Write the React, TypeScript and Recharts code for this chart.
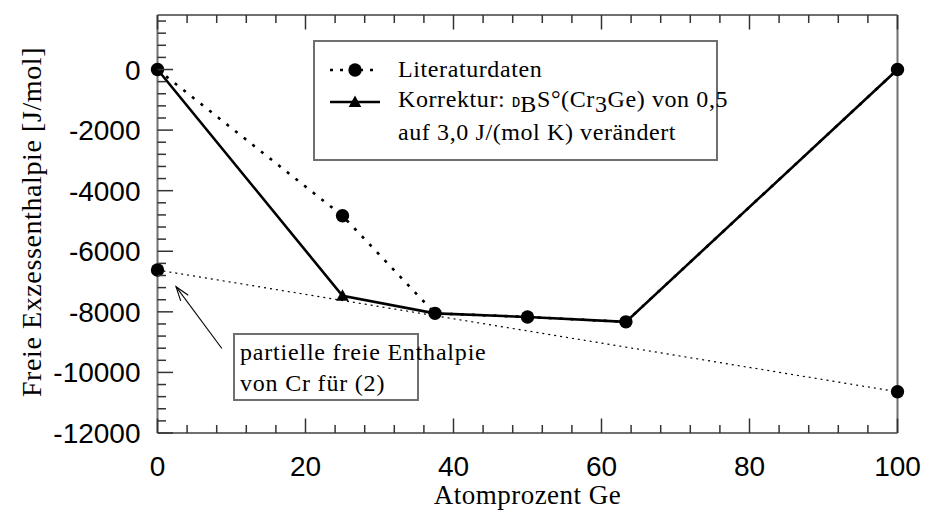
import { LineChart, Line, XAxis, YAxis, ReferenceLine, Legend } from 'recharts';

// Atomprozent Ge der berechneten Phasen
const atomPct = [0, 25, 37.5, 50, 63.3, 100];
// Freie Exzessenthalpie in J/mol
const literatur = [0, -4830, -8050, -8170, -8330, 0];
const korrektur = [0, -7470, -8050, -8170, -8330, 0];
// Tangente: partielle freie Enthalpie von Cr
const tangenteX = [0, 100];
const tangenteY = [-6620, -10640];

const xTicks = [0, 4, 8, 12, 16, 20, 24, 28, 32, 36, 40, 44, 48, 52, 56, 60, 64, 68, 72, 76, 80, 84, 88, 92, 96, 100];
const xLabels = [0, 20, 40, 60, 80, 100];
const yTicks = [
  -12000, -11600, -11200, -10800, -10400, -10000, -9600, -9200, -8800, -8400, -8000, -7600, -7200,
  -6800, -6400, -6000, -5600, -5200, -4800, -4400, -4000, -3600, -3200, -2800, -2400, -2000, -1600,
  -1200, -800, -400, 0, 400, 800, 1200, 1600,
];
const yLabels = [0, -2000, -4000, -6000, -8000, -10000, -12000];

const litData = atomPct.map((x, i) => ({ x, y: literatur[i] }));
const korData = atomPct.map((x, i) => ({ x, y: korrektur[i], own: korrektur[i] !== literatur[i] }));
const tanData = tangenteX.map((x, i) => ({ x, y: tangenteY[i] }));

const SERIF = '"Liberation Serif", "Times New Roman", serif';
const SANS = '"Liberation Sans", Arial, sans-serif';
const FRAME = '#707070';
const TICK = '#333';

const Dot = (props: any) => {
  const { cx, cy } = props;
  if (cx == null || cy == null) return null;
  return <circle cx={cx} cy={cy} r={6.7} fill="#000" />;
};

const Tri = (props: any) => {
  const { cx, cy, payload } = props;
  if (cx == null || cy == null || !payload?.own) return null;
  return <path d={`M${cx},${cy - 6.5} L${cx + 6.3},${cy + 5} L${cx - 6.3},${cy + 5} Z`} fill="#000" />;
};

const XTick = (props: any) => {
  const { x, y, payload, top } = props;
  const v = payload.value;
  const major = xLabels.includes(v);
  const len = major ? 14.5 : 8;
  const dir = top ? 1 : -1;
  return (
    <g>
      <line x1={x} y1={y} x2={x} y2={y + dir * len} stroke={TICK} strokeWidth={1.5} />
      {!top && major && (
        <text x={x} y={y + 43} textAnchor="middle" fontFamily={SANS} fontSize={28} fill="#000">
          {v}
        </text>
      )}
    </g>
  );
};

const YTick = (props: any) => {
  const { x, y, payload, right } = props;
  const v = payload.value;
  const major = yLabels.includes(v);
  const len = major ? 15.5 : 8.5;
  const dir = right ? -1 : 1;
  return (
    <g>
      <line x1={x} y1={y} x2={x + dir * len} y2={y} stroke={TICK} strokeWidth={1.5} />
      {!right && major && (
        <text x={x - 17} y={y + 10} textAnchor="end" fontFamily={SANS} fontSize={28} fill="#000">
          {v}
        </text>
      )}
    </g>
  );
};

const Arrow = (props: any) => {
  const { x1, y1, x2, y2 } = props;
  if ([x1, y1, x2, y2].some((n) => n == null)) return null;
  const a = Math.atan2(y2 - y1, x2 - x1);
  const len = 15;
  const spread = 0.32;
  const p1 = [x2 - len * Math.cos(a - spread), y2 - len * Math.sin(a - spread)];
  const p2 = [x2 - len * Math.cos(a + spread), y2 - len * Math.sin(a + spread)];
  return (
    <g stroke="#000" strokeWidth={1.1} fill="none">
      <line x1={x1} y1={y1} x2={x2} y2={y2} />
      <polyline points={`${p1[0]},${p1[1]} ${x2},${y2} ${p2[0]},${p2[1]}`} />
    </g>
  );
};

const LegendBox = () => (
  <div
    style={{
      width: 401,
      height: 117,
      border: `2px solid ${FRAME}`,
      background: '#fff',
      fontFamily: SERIF,
      fontSize: 24,
      letterSpacing: 0.6,
      color: '#000',
      position: 'relative',
    }}
  >
    <svg width={70} height={117} style={{ position: 'absolute', left: 0, top: 0 }}>
      <line x1={15} y1={28} x2={65} y2={28} stroke="#000" strokeWidth={2.5} strokeDasharray="3 7" />
      <circle cx={40} cy={28} r={6.7} fill="#000" />
      <line x1={15} y1={60} x2={65} y2={60} stroke="#000" strokeWidth={2.5} />
      <path d="M40,53.5 L46.3,65 L33.7,65 Z" fill="#000" />
    </svg>
    <div style={{ position: 'absolute', left: 83, top: 12, whiteSpace: 'nowrap', lineHeight: '30px' }}>
      <div>Literaturdaten</div>
      <div>
        Korrektur:{' '}
        <span style={{ fontFamily: '"DejaVu Sans Mono", monospace', fontSize: 14, letterSpacing: 0 }}>D</span>
        <span style={{ position: 'relative', top: 5 }}>B</span>S°(Cr
        <span style={{ position: 'relative', top: 5 }}>3</span>Ge) von 0,5
      </div>
      <div>auf 3,0 J/(mol K) verändert</div>
    </div>
  </div>
);

export default function App() {
  return (
    <div style={{ position: 'absolute', left: 0, top: 0, width: 925, height: 516, background: '#fff' }}>
      <LineChart width={925} height={516} data={litData} margin={{ top: 14, right: 26.5, bottom: 0, left: 0 }}>
        <XAxis
          dataKey="x"
          type="number"
          domain={[0, 100]}
          ticks={xTicks}
          interval={0}
          height={83}
          tickSize={0}
          tickMargin={0}
          axisLine={{ stroke: FRAME, strokeWidth: 2 }}
          tickLine={false}
          tick={<XTick />}
          label={{
            content: (p: any) => (
              <text
                x={p.viewBox.x + p.viewBox.width / 2}
                y={p.viewBox.y + 71}
                textAnchor="middle"
                fontFamily={SERIF}
                fontSize={27}
                letterSpacing={0.5}
                fill="#000"
              >
                Atomprozent Ge
              </text>
            ),
          }}
        />
        <XAxis
          xAxisId="top"
          orientation="top"
          dataKey="x"
          type="number"
          domain={[0, 100]}
          ticks={xTicks}
          interval={0}
          height={1}
          tickSize={0}
          tickMargin={0}
          axisLine={{ stroke: FRAME, strokeWidth: 2 }}
          tickLine={false}
          tick={<XTick top />}
        />
        <YAxis
          type="number"
          domain={[-12000, 1800]}
          ticks={yTicks}
          interval={0}
          width={157.5}
          tickSize={0}
          tickMargin={0}
          axisLine={{ stroke: FRAME, strokeWidth: 2 }}
          tickLine={false}
          tick={<YTick />}
          label={{
            content: (p: any) => {
              const cx = 41;
              const cy = p.viewBox.y + p.viewBox.height / 2 - 2;
              return (
                <text
                  x={cx}
                  y={cy}
                  transform={`rotate(-90 ${cx} ${cy})`}
                  textAnchor="middle"
                  fontFamily={SERIF}
                  fontSize={28}
                  letterSpacing={0.6}
                  fill="#000"
                >
                  Freie Exzessenthalpie [J/mol]
                </text>
              );
            },
          }}
        />
        <YAxis
          yAxisId="right"
          orientation="right"
          type="number"
          domain={[-12000, 1800]}
          ticks={yTicks}
          interval={0}
          width={1}
          tickSize={0}
          tickMargin={0}
          axisLine={{ stroke: FRAME, strokeWidth: 2 }}
          tickLine={false}
          tick={<YTick right />}
        />
        <Line
          data={tanData}
          dataKey="y"
          stroke="#000"
          strokeWidth={1.2}
          strokeDasharray="2 4"
          dot={<Dot />}
          activeDot={false}
          isAnimationActive={false}
        />
        <Line
          data={korData}
          dataKey="y"
          stroke="#000"
          strokeWidth={2.6}
          dot={<Tri />}
          activeDot={false}
          isAnimationActive={false}
        />
        <Line
          data={litData}
          dataKey="y"
          stroke="#000"
          strokeWidth={2.6}
          strokeDasharray="3 8"
          dot={<Dot />}
          activeDot={false}
          isAnimationActive={false}
        />
        <ReferenceLine
          segment={[
            { x: 8.7, y: -9210 },
            { x: 2.5, y: -7170 },
          ]}
          shape={<Arrow />}
        />
        <Legend
          layout="vertical"
          align="center"
          verticalAlign="middle"
          wrapperStyle={{ left: 313, top: 40, width: 405, height: 121 }}
          content={() => <LegendBox />}
        />
      </LineChart>
      <div
        style={{
          position: 'absolute',
          left: 233,
          top: 333,
          width: 186,
          height: 68,
          border: `2px solid ${FRAME}`,
          background: '#fff',
          fontFamily: SERIF,
          fontSize: 24,
          letterSpacing: 0.8,
          lineHeight: '31px',
          padding: '2px 0 0 5px',
          boxSizing: 'border-box',
          whiteSpace: 'nowrap',
          color: '#000',
        }}
      >
        <div>partielle freie Enthalpie</div>
        <div>von Cr für (2)</div>
      </div>
    </div>
  );
}
